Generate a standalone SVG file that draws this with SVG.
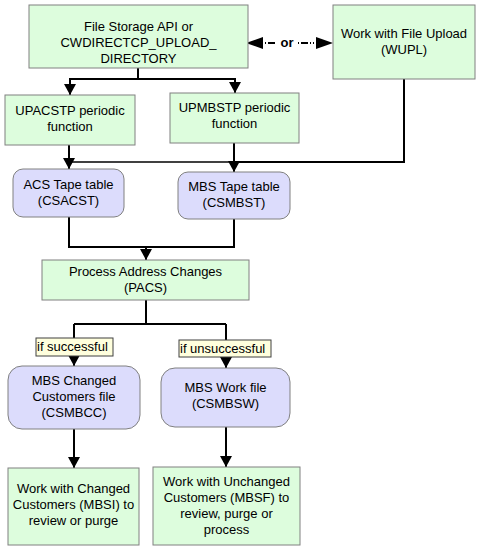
<svg xmlns="http://www.w3.org/2000/svg" width="479" height="550" viewBox="0 0 479 550">
<defs>
<style>
text{font-family:"Liberation Sans",Arial,sans-serif;font-size:13px;fill:#000;text-anchor:middle}
.g{fill:#ddfddd;stroke:#808080;stroke-width:1}
.b{fill:#dcdcfc;stroke:#808080;stroke-width:1}
.y{fill:#ffffdd;stroke:#404040;stroke-width:1}
.c{fill:none;stroke:#000;stroke-width:2}
.l{text-anchor:start}
</style>
<marker id="ah" markerWidth="11" markerHeight="12" refX="11" refY="6" orient="auto" markerUnits="userSpaceOnUse" viewBox="0 0 11 12">
<path d="M0,0 L11,6 L0,12 Z" fill="#000"/>
</marker>
</defs>
<rect width="479" height="550" fill="#fff"/>
<g id="connectors">
<path class="c" d="M138,68 V79 M70,79 H235"/>
<path class="c" d="M70,78 V95" marker-end="url(#ah)"/>
<path class="c" d="M235,78 V93" marker-end="url(#ah)"/>
<path class="c" d="M404,79 V162 H234"/>
<path d="M234,162 H69" fill="none" stroke="#000" stroke-width="1.5"/>
<path class="c" d="M69,145 V169" marker-end="url(#ah)"/>
<path class="c" d="M234,143 V172" marker-end="url(#ah)"/>
<path class="c" d="M69,217 V247 H234 V219"/>
<path class="c" d="M146,246 V260" marker-end="url(#ah)"/>
<path class="c" d="M146,300 V324 M74,324 H226 M74,324 V338 M226,324 V340"/>
<path class="c" d="M74,356 V366" marker-end="url(#ah)"/>
<path class="c" d="M226,357 V368" marker-end="url(#ah)"/>
<path class="c" d="M74,429 V468" marker-end="url(#ah)"/>
<path class="c" d="M226,427 V467" marker-end="url(#ah)"/>
<g id="or-link">
<line x1="262" y1="43" x2="318" y2="43" stroke="#000" stroke-width="2" stroke-dasharray="1,2"/>
<rect x="276" y="36" width="22" height="14" fill="#fff"/>
<path d="M246,43 L263,37 L263,49 Z" fill="#000"/>
<path d="M333,43 L316,37 L316,49 Z" fill="#000"/>
<line x1="269" y1="43" x2="275" y2="43" stroke="#000" stroke-width="2"/>
<line x1="302" y1="43" x2="308" y2="43" stroke="#000" stroke-width="2"/>
<text x="287" y="47" style="font-weight:bold">or</text>
</g>
</g>
<g id="n-filestorage"><rect class="g" x="29" y="5" width="219" height="63"/>
<text x="138.5" y="31">File Storage API or</text><text x="138.5" y="47">CWDIRECTCP_UPLOAD_</text><text x="138.5" y="63">DIRECTORY</text></g>
<g id="n-wupl"><rect class="g" x="333" y="5" width="142" height="74"/>
<text x="404" y="38">Work with File Upload</text><text x="404" y="54">(WUPL)</text></g>
<g id="n-upacstp"><rect class="g" x="5" y="95" width="130" height="50"/>
<text x="70" y="115">UPACSTP periodic</text><text x="70" y="131">function</text></g>
<g id="n-upmbstp"><rect class="g" x="170" y="93" width="129" height="50"/>
<text x="234.5" y="112">UPMBSTP periodic</text><text x="234.5" y="128">function</text></g>
<g id="n-csacst"><rect class="b" x="13" y="169" width="111" height="48" rx="10"/>
<text x="68.5" y="189">ACS Tape table</text><text x="68.5" y="205">(CSACST)</text></g>
<g id="n-csmbst"><rect class="b" x="178" y="172" width="112" height="47" rx="10"/>
<text x="234" y="191">MBS Tape table</text><text x="234" y="207">(CSMBST)</text></g>
<g id="n-pacs"><rect class="g" x="42" y="260" width="207" height="40"/>
<text x="145.5" y="276">Process Address Changes</text><text x="145.5" y="292">(PACS)</text></g>
<g id="lbl-success"><rect class="y" x="36" y="338" width="77" height="18"/>
<text class="l" x="37" y="351">if successful</text></g>
<g id="lbl-unsuccess"><rect class="y" x="179" y="340" width="92" height="17"/>
<text class="l" x="180" y="353">if unsuccessful</text></g>
<g id="n-csmbcc"><rect class="b" x="8" y="366" width="132" height="63" rx="14"/>
<text x="74" y="385">MBS Changed</text><text x="74" y="401">Customers file</text><text x="74" y="417">(CSMBCC)</text></g>
<g id="n-csmbsw"><rect class="b" x="161" y="368" width="129" height="59" rx="14"/>
<text x="225.5" y="392">MBS Work file</text><text x="225.5" y="408">(CSMBSW)</text></g>
<g id="n-mbsi"><rect class="g" x="8" y="468" width="131" height="77"/>
<text x="73.5" y="493">Work with Changed</text><text x="73.5" y="509">Customers (MBSI) to</text><text x="73.5" y="525">review or purge</text></g>
<g id="n-mbsf"><rect class="g" x="153" y="467" width="147" height="78"/>
<text x="226.5" y="486">Work with Unchanged</text><text x="226.5" y="502">Customers (MBSF) to</text><text x="226.5" y="518">review, purge or</text><text x="226.5" y="534">process</text></g>
</svg>
